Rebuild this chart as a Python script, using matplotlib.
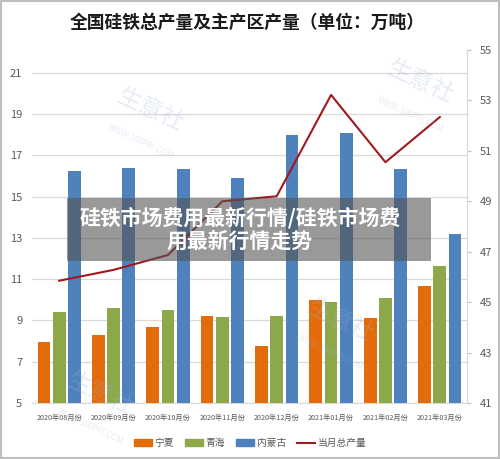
import numpy as np
import matplotlib

matplotlib.use("Agg")
import matplotlib.pyplot as plt
from matplotlib.patches import Rectangle
from matplotlib.lines import Line2D

plt.rcParams["font.family"] = ["Noto Sans CJK SC", "DejaVu Sans"]

# data
months = ["2020年08月份", "2020年09月份", "2020年10月份", "2020年11月份",
          "2020年12月份", "2021年01月份", "2021年02月份", "2021年03月份"]
ningxia = [7.95, 8.3, 8.68, 9.2, 7.76, 9.98, 9.12, 10.67]
qinghai = [9.43, 9.6, 9.49, 9.17, 9.2, 9.9, 10.09, 11.63]
neimenggu = [16.25, 16.38, 16.35, 15.9, 17.96, 18.1, 16.33, 13.18]
total = [45.85, 46.28, 46.87, 49.0, 49.2, 53.22, 50.55, 52.34]

left_ticks = list(range(5, 22, 2))
right_ticks = list(range(41, 56, 2))

C_NX = "#E36C0A"
C_QH = "#8DA84B"
C_NM = "#4F81BD"
C_LINE = "#9E1A1E"
C_TXT = "#595959"

fig = plt.figure(figsize=(5.0, 4.59), dpi=100)
fig.patch.set_facecolor("white")
fig.patches.append(Rectangle((0.002, 0.002), 0.996, 0.996, transform=fig.transFigure,
                             fill=False, edgecolor="#BFBFBF", linewidth=1.5))

ax = fig.add_axes([0.064, 0.122, 0.87, 0.769])
x = np.arange(len(months))
w = 0.235
off = 0.28
ax.bar(x - off, ningxia, w, color=C_NX, zorder=3)
ax.bar(x, qinghai, w, color=C_QH, zorder=3)
ax.bar(x + off, neimenggu, w, color=C_NM, zorder=3)

ax.set_xlim(-0.5, len(months) - 0.5)
ax.set_ylim(5, 22.1)
ax.set_yticks(left_ticks)
ax.set_yticklabels([str(t) for t in left_ticks], fontsize=8, color=C_TXT)
ax.set_xticks(x)
ax.set_xticklabels(months, fontsize=5.2, color=C_TXT)
ax.tick_params(axis="both", length=0, pad=8)
ax.tick_params(axis="y", pad=7)
ax.grid(axis="y", color="#D9D9D9", linewidth=0.9, zorder=0)
for s in ["left", "top", "right"]:
    ax.spines[s].set_visible(False)
ax.spines["bottom"].set_color("#D9D9D9")

ax2 = ax.twinx()
ax2.plot(x, total, color=C_LINE, linewidth=1.5, zorder=4)
ax2.set_ylim(41, 55)
ax2.set_yticks(right_ticks)
ax2.set_yticklabels([str(t) for t in right_ticks], fontsize=8, color=C_TXT)
ax2.tick_params(axis="y", length=3, color="#BFBFBF", pad=6)
for s in ["left", "top", "bottom"]:
    ax2.spines[s].set_visible(False)
ax2.spines["right"].set_color("#D9D9D9")

fig.text(0.494, 0.95, "全国硅铁总产量及主产区产量（单位：万吨）", ha="center", va="center",
         fontsize=12.8, fontweight="bold", color="#1a1a1a")

# faint watermarks
for wx, wy in [(0.3, 0.76), (0.84, 0.82), (0.68, 0.3), (0.2, 0.14)]:
    fig.text(wx, wy, "生意社", fontsize=17, color="#9FB3D6", alpha=0.25,
             rotation=-25, ha="center", va="center")
    fig.text(wx - 0.02, wy - 0.07, "WWW.100PPI.COM", fontsize=6, color="#9FB3D6",
             alpha=0.25, rotation=-25, ha="center", va="center")

# overlay banner
fig.patches.append(Rectangle((67 / 500, 1 - 261 / 459), 364 / 500, 63 / 459,
                             transform=fig.transFigure, facecolor="#555555",
                             alpha=0.6, edgecolor="none", zorder=10))
fig.text(240 / 500, 1 - 229 / 459, "硅铁市场费用最新行情/硅铁市场费\n用最新行情走势",
         ha="center", va="center", fontsize=15, fontweight="bold", color="white",
         linespacing=1.15, zorder=11)

handles = [
    Rectangle((0, 0), 1, 1, color=C_NX),
    Rectangle((0, 0), 1, 1, color=C_QH),
    Rectangle((0, 0), 1, 1, color=C_NM),
    Line2D([], [], color=C_LINE, linewidth=1.5),
]
fig.legend(handles, ["宁夏", "青海", "内蒙古", "当月总产量"], loc="center",
           bbox_to_anchor=(0.5, 0.035), ncol=4, frameon=False, fontsize=7,
           handlelength=1.9, handleheight=0.6, columnspacing=1.1, handletextpad=0.25,
           labelcolor=C_TXT)

fig.savefig("out.png", dpi=100)
